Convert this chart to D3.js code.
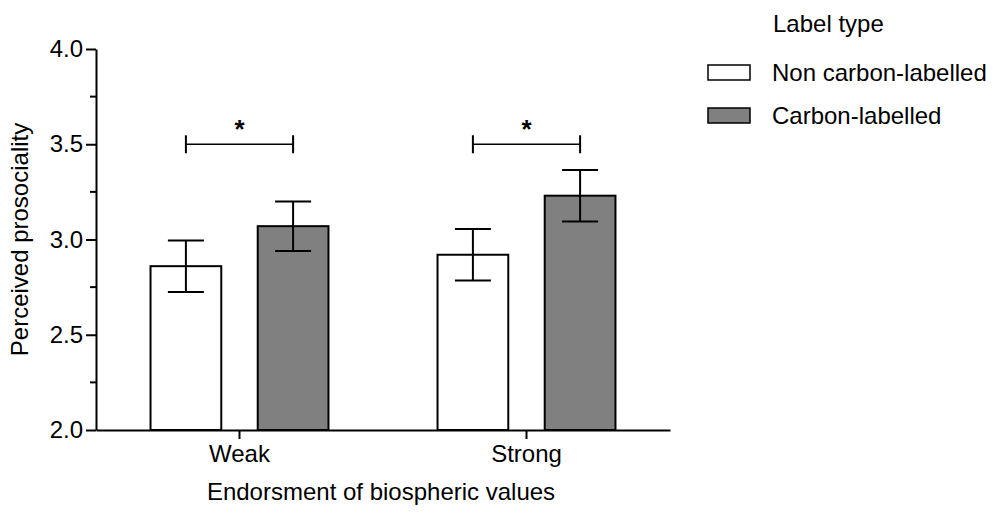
<!DOCTYPE html>
<html>
<head>
<meta charset="utf-8">
<script src="https://cdn.jsdelivr.net/npm/d3@7"></script>
<style>
  html, body { margin: 0; padding: 0; background: #fff; }
  svg { display: block; font-family: "Liberation Sans", Arial, sans-serif; }
</style>
</head>
<body>
<div id="chart"></div>
<script>
// data
const categories = ['Weak', 'Strong']
const series = ['Non carbon-labelled', 'Carbon-labelled']
const nonCarbonMeans = [2.86, 2.92]
const nonCarbonSE = [0.135, 0.135]
const carbonMeans = [3.07, 3.23]
const carbonSE = [0.13, 0.135]
const yTicks = [2.0, 2.5, 3.0, 3.5, 4.0]
const yMinorTicks = [2.25, 2.75, 3.25, 3.75]
const significance = ['*', '*']   // one bracket per category, between the two bars
const sigLevel = [3.5, 3.5]

const colors = { 'Non carbon-labelled': '#ffffff', 'Carbon-labelled': '#808080' }
const fontSize = '24px'

const width = 993
const height = 515
const plot = { left: 96, right: 670, top: 49, bottom: 430 }

const svg = d3.select('#chart').append('svg')
  .attr('width', width).attr('height', height)

const x = d3.scaleBand().domain(categories).range([plot.left, plot.right])
  .paddingInner(0.38).paddingOuter(0.19)
const sub = d3.scaleBand().domain(series).range([0, x.bandwidth()]).paddingInner(0.34)
const y = d3.scaleLinear().domain([2, 4]).range([plot.bottom, plot.top])

const records = []
categories.forEach((c, i) => {
  records.push({ cat: c, s: series[0], mean: nonCarbonMeans[i], se: nonCarbonSE[i] })
  records.push({ cat: c, s: series[1], mean: carbonMeans[i], se: carbonSE[i] })
})

// Bars
svg.append('g').selectAll('rect').data(records).join('rect')
  .attr('x', d => x(d.cat) + sub(d.s))
  .attr('y', d => y(d.mean))
  .attr('width', sub.bandwidth())
  .attr('height', d => y(2) - y(d.mean))
  .attr('fill', d => colors[d.s])
  .attr('stroke', '#000').attr('stroke-width', 2)

// Error bars
const eb = svg.append('g').attr('stroke', '#000').attr('stroke-width', 2)
records.forEach(d => {
  const cx = x(d.cat) + sub(d.s) + sub.bandwidth() / 2
  const cap = 18
  eb.append('line').attr('x1', cx).attr('x2', cx).attr('y1', y(d.mean + d.se)).attr('y2', y(d.mean - d.se))
  eb.append('line').attr('x1', cx - cap).attr('x2', cx + cap).attr('y1', y(d.mean + d.se)).attr('y2', y(d.mean + d.se))
  eb.append('line').attr('x1', cx - cap).attr('x2', cx + cap).attr('y1', y(d.mean - d.se)).attr('y2', y(d.mean - d.se))
})

// Significance brackets
categories.forEach((c, i) => {
  const x1 = x(c) + sub(series[0]) + sub.bandwidth() / 2
  const x2 = x(c) + sub(series[1]) + sub.bandwidth() / 2
  const yy = y(sigLevel[i])
  const g = svg.append('g').attr('stroke', '#000')
  g.append('line').attr('x1', x1).attr('x2', x2).attr('y1', yy).attr('y2', yy).attr('stroke-width', 1.5)
  g.append('line').attr('x1', x1).attr('x2', x1).attr('y1', yy - 9).attr('y2', yy + 9).attr('stroke-width', 2)
  g.append('line').attr('x1', x2).attr('x2', x2).attr('y1', yy - 9).attr('y2', yy + 9).attr('stroke-width', 2)
  svg.append('text').attr('x', (x1 + x2) / 2).attr('y', yy - 6)
    .attr('text-anchor', 'middle').style('font-size', '26px').style('font-weight', 'bold')
    .text(significance[i])
})

// Y axis
const yAxis = svg.append('g').attr('transform', `translate(${plot.left},0)`)
  .call(d3.axisLeft(y).tickValues(yTicks).tickFormat(d3.format('.1f')).tickSize(10).tickSizeOuter(0).tickPadding(3))
  .attr('font-family', null).attr('font-size', null)
yAxis.select('.domain').attr('stroke-width', 2)
yAxis.selectAll('.tick line').attr('stroke-width', 2)
yAxis.selectAll('.tick text').style('font-size', fontSize).attr('fill', '#000')
yAxis.selectAll('.minor').data(yMinorTicks).join('line').attr('class', 'minor')
  .attr('x1', -6).attr('x2', 0).attr('y1', d => y(d)).attr('y2', d => y(d))
  .attr('stroke', '#000').attr('stroke-width', 2)

// X axis
const xAxis = svg.append('g').attr('transform', `translate(0,${plot.bottom})`)
  .call(d3.axisBottom(x).tickSize(9).tickSizeOuter(0).tickPadding(6))
  .attr('font-family', null).attr('font-size', null)
xAxis.select('.domain').attr('stroke-width', 2)
xAxis.selectAll('.tick line').attr('stroke-width', 2)
xAxis.selectAll('.tick text').style('font-size', fontSize).attr('fill', '#000')

// Axis titles
svg.append('text').attr('transform', `translate(28,${(plot.top + plot.bottom) / 2}) rotate(-90)`)
  .attr('text-anchor', 'middle').style('font-size', fontSize).text('Perceived prosociality')
svg.append('text').attr('x', (plot.left + plot.right) / 2 - 2).attr('y', 500)
  .attr('text-anchor', 'middle').style('font-size', fontSize).text('Endorsment of biospheric values')

// Legend
const legend = svg.append('g').attr('transform', 'translate(708,0)')
legend.append('text').attr('x', 65).attr('y', 32).style('font-size', fontSize).text('Label type')
series.forEach((s, i) => {
  const ly = 65 + i * 43
  legend.append('rect').attr('x', 0).attr('y', ly).attr('width', 42).attr('height', 15)
    .attr('fill', colors[s]).attr('stroke', '#000').attr('stroke-width', 1.5)
  legend.append('text').attr('x', 64).attr('y', ly + 16).style('font-size', fontSize).text(s)
})
</script>
</body>
</html>
